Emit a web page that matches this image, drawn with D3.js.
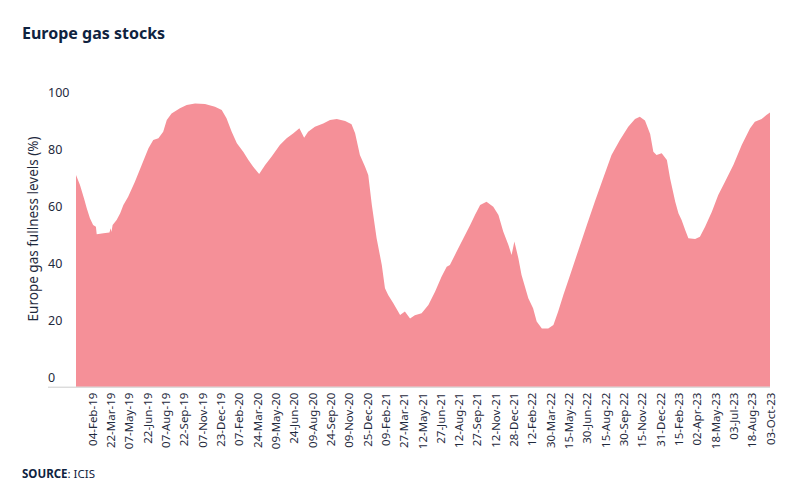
<!DOCTYPE html>
<html>
<head>
<meta charset="utf-8">
<script src="https://cdn.jsdelivr.net/npm/d3@7"></script>
<style>
  html, body { margin: 0; padding: 0; background: #ffffff; }
  svg { display: block; font-family: "Noto Sans", "Open Sans", sans-serif; }
</style>
</head>
<body>
<svg id="chart" width="800" height="500"></svg>
<script>
// ---- DATA ----
const chartTitle = "Europe gas stocks";
const yAxisTitle = "Europe gas fullness levels (%)";
const sourceLabel = "SOURCE";
const sourceText = ": ICIS";

const dates = [
  "2018-12-25","2019-01-04","2019-01-14","2019-01-21","2019-01-29","2019-02-06","2019-02-13","2019-02-15",
  "2019-03-04","2019-03-19","2019-03-22","2019-03-24","2019-03-27","2019-04-06","2019-04-15","2019-04-23",
  "2019-05-05","2019-05-22","2019-06-08","2019-06-25","2019-07-07","2019-07-20","2019-08-01","2019-08-10",
  "2019-08-22","2019-09-12","2019-09-29","2019-10-20","2019-11-14","2019-12-09","2019-12-26","2020-01-07",
  "2020-01-20","2020-02-02","2020-02-18","2020-03-02","2020-03-14","2020-03-29","2020-04-13","2020-04-29",
  "2020-05-20","2020-06-06","2020-06-23","2020-07-08","2020-07-20","2020-07-30","2020-08-16","2020-09-06",
  "2020-09-23","2020-10-10","2020-10-31","2020-11-16","2020-11-25","2020-12-07","2020-12-20","2020-12-28",
  "2021-01-06","2021-01-18","2021-01-31","2021-02-08","2021-02-16","2021-03-01","2021-03-18","2021-03-30",
  "2021-04-12","2021-04-24","2021-05-11","2021-05-28","2021-06-14","2021-06-30","2021-07-13","2021-07-21",
  "2021-08-07","2021-08-24","2021-09-10","2021-09-22","2021-10-05","2021-10-21","2021-11-07","2021-11-20",
  "2021-12-02","2021-12-15","2021-12-23","2021-12-30","2022-01-09","2022-01-17","2022-02-03","2022-02-15",
  "2022-02-24","2022-03-09","2022-03-25","2022-04-07","2022-04-19","2022-05-02","2022-05-19","2022-06-09",
  "2022-06-30","2022-07-20","2022-08-10","2022-08-31","2022-09-21","2022-10-12","2022-10-29","2022-11-10",
  "2022-11-23","2022-12-06","2022-12-14","2022-12-22","2023-01-04","2023-01-17","2023-01-25","2023-02-07",
  "2023-02-15","2023-02-23","2023-03-04","2023-03-12","2023-03-29","2023-04-10","2023-04-23","2023-05-10",
  "2023-05-26","2023-06-12","2023-07-03","2023-07-24","2023-08-14","2023-08-26","2023-09-12","2023-09-24",
  "2023-10-03"
];
const stockLevels = [
  74.1,70.6,66.0,62.5,59.0,56.6,56.0,53.4,
  53.7,54.0,55.5,54.2,56.6,58.4,60.7,63.6,
  66.5,71.8,77.6,83.5,86.4,87.0,89.3,93.4,
  95.7,97.5,98.6,99.2,99.0,98.0,96.9,94.0,
  89.3,85.2,82.3,79.4,77.0,74.5,77.6,80.5,
  84.6,87.0,88.7,90.5,87.2,89.3,91.0,92.2,
  93.4,93.7,93.0,91.9,88.7,81.1,77.0,74.1,
  63.6,52.0,42.6,34.5,32.1,29.2,25.1,26.3,
  23.9,25.0,25.7,28.6,33.3,38.5,42.0,42.6,
  47.3,52.0,56.6,60.1,63.6,64.8,63.0,60.1,
  54.3,49.6,46.1,50.8,45.0,39.1,31.0,27.5,
  22.8,20.4,20.4,21.6,26.3,32.1,39.1,47.9,
  56.6,64.8,73.0,81.1,86.4,91.0,93.7,94.5,
  93.2,88.5,82.3,81.1,81.7,79.4,73.0,64.8,
  60.7,58.4,54.9,52.0,51.7,52.5,56.0,61.3,
  67.1,71.8,77.6,84.6,90.5,92.8,93.7,95.1,
  96.0
];
const xTickLabels = [
  "04-Feb-19","22-Mar-19","07-May-19","22-Jun-19","07-Aug-19","22-Sep-19","07-Nov-19","23-Dec-19",
  "07-Feb-20","24-Mar-20","09-May-20","24-Jun-20","09-Aug-20","24-Sep-20","09-Nov-20","25-Dec-20",
  "09-Feb-21","27-Mar-21","12-May-21","27-Jun-21","12-Aug-21","27-Sep-21","12-Nov-21","28-Dec-21",
  "12-Feb-22","30-Mar-22","15-May-22","30-Jun-22","15-Aug-22","30-Sep-22","15-Nov-22","31-Dec-22",
  "15-Feb-23","02-Apr-23","18-May-23","03-Jul-23","18-Aug-23","03-Oct-23"
];
const yTicks = [0, 20, 40, 60, 80, 100];

// ---- CHART ----
const svg = d3.select("#chart");
const parseISO = d3.timeParse("%Y-%m-%d");
const parseTick = d3.timeParse("%d-%b-%y");
const data = dates.map((d, i) => ({ date: parseISO(d), value: stockLevels[i] }));

const plotLeft = 76, plotRight = 770, plotBottom = 386.7, plotTop = 101.1;

const x = d3.scaleTime()
  .domain([data[0].date, data[data.length - 1].date])
  .range([plotLeft, plotRight]);
const y = d3.scaleLinear().domain([0, 100]).range([plotBottom, plotTop]);

const textColor = "#1f2a3d";

// title
svg.append("text")
  .attr("x", 22).attr("y", 39)
  .attr("font-size", 16).attr("font-weight", 700)
  .attr("fill", "#0f2340")
  .text(chartTitle);

// area
const area = d3.area()
  .x(d => x(d.date))
  .y0(y(0))
  .y1(d => y(d.value));
svg.append("path")
  .datum(data)
  .attr("d", area)
  .attr("fill", "#f59098");

// baseline
svg.append("line")
  .attr("x1", 48).attr("x2", plotRight)
  .attr("y1", y(0) + 0.5).attr("y2", y(0) + 0.5)
  .attr("stroke", "#cccccc").attr("stroke-width", 1);

// y labels (sit above their gridline)
const yAxis = d3.axisLeft(y).tickValues(yTicks).tickSize(0).tickFormat(d3.format("d"));
const gy = svg.append("g").attr("transform", "translate(48,0)").call(yAxis);
gy.select(".domain").remove();
gy.selectAll("text")
  .attr("x", 0).attr("dy", "-0.38em")
  .attr("text-anchor", "start")
  .attr("font-size", 12.5)
  .attr("font-family", "'Noto Sans', sans-serif")
  .attr("fill", textColor);

// y title
svg.append("text")
  .attr("transform", `translate(38,${(y(0) + y(100)) / 2 - 15}) rotate(-90)`)
  .attr("text-anchor", "middle")
  .attr("font-size", 13.5)
  .attr("fill", textColor)
  .text(yAxisTitle);

// x axis labels
const xAxis = d3.axisBottom(x)
  .tickValues(xTickLabels.map(parseTick))
  .tickSize(0)
  .tickFormat((d, i) => xTickLabels[i]);
const gx = svg.append("g").attr("transform", `translate(0,${plotBottom})`).call(xAxis);
gx.select(".domain").remove();
gx.selectAll("text")
  .attr("transform", "rotate(-90)")
  .attr("x", -6).attr("y", 0).attr("dy", "0.35em")
  .attr("text-anchor", "end")
  .attr("font-size", 11.5)
  .attr("font-family", "'Noto Sans', sans-serif")
  .attr("fill", textColor);

// source
const src = svg.append("text")
  .attr("x", 22).attr("y", 478)
  .attr("font-size", 11.5)
  .attr("fill", "#0f2340");
src.append("tspan").attr("font-weight", 700).text(sourceLabel);
src.append("tspan").text(sourceText);
</script>
</body>
</html>
